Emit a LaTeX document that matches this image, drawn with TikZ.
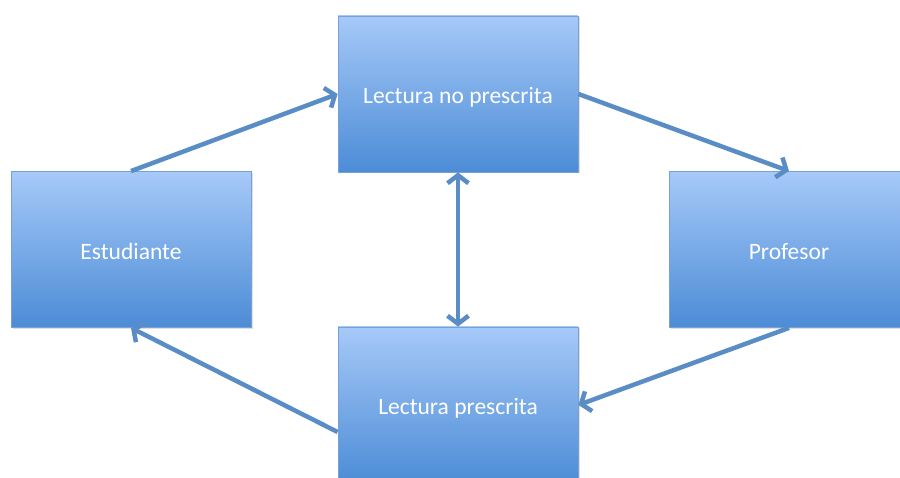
\documentclass[tikz,border=0pt]{standalone}
\usepackage{fontspec}
\setmainfont{Carlito}
\usetikzlibrary{arrows.meta,shadows}
\definecolor{boxtop}{HTML}{A6C9F8}
\definecolor{boxbot}{HTML}{4C8CD6}
\definecolor{boxline}{HTML}{78A2D6}
\definecolor{arrowc}{HTML}{5A8DC6}
\begin{document}
\begin{tikzpicture}[x=1pt,y=1pt,
  blk/.style={rectangle, minimum width=240pt, minimum height=156pt,
    top color=boxtop, bottom color=boxbot, draw=boxline, line width=0.8pt,
    text=white, font=\fontsize{23.5}{28}\selectfont,
    text height=20pt, text depth=0pt,
    drop shadow={shadow xshift=1.5pt, shadow yshift=-1.5pt, opacity=0.25}},
  link/.style={draw=arrowc, line width=4.5pt,
    -{Straight Barb[length=8pt,width=21pt]}},
  dlink/.style={draw=arrowc, line width=4.5pt,
    {Straight Barb[length=8pt,width=21pt]}-{Straight Barb[length=8pt,width=21pt]}}]
  \clip (0,0) rectangle (900,478);
  \fill[white] (0,0) rectangle (900,478);

  % the four boxes
  \node[blk] (est)  at (131,228.5) {Estudiante};
  \node[blk] (lnp)  at (458,384)   {Lectura no prescrita};
  \node[blk] (prof) at (789,228.5) {Profesor};
  \node[blk] (lp)   at (458,73)    {Lectura prescrita};

  % the cycle of connectors
  \coordinate (lpout) at ([yshift=-27pt]lp.west);
  \draw[link] (est.north) -- (lnp.west);
  \draw[link] (lnp.east) -- (prof.north);
  \draw[link] (prof.south) -- (lp.east);
  \draw[link] (lpout) -- (est.south);
  \draw[dlink] (lnp.south) -- (lp.north);
\end{tikzpicture}
\end{document}
